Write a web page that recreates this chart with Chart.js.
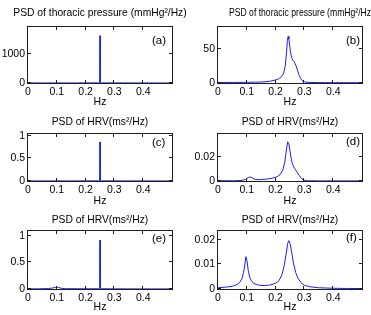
<!DOCTYPE html>
<html>
<head>
<meta charset="utf-8">
<script src="https://cdn.jsdelivr.net/npm/chart.js@4.4.0/dist/chart.umd.min.js"></script>
<style>
  body { margin: 0; background: #fff; }
  #wrap { position: relative; width: 371px; height: 315px; overflow: hidden; }
  #wrap canvas { position: absolute; left: 0; top: 0; }
</style>
</head>
<body>
<div id="wrap">
  <canvas id="a" width="371" height="315"></canvas>
  <canvas id="b" width="371" height="315"></canvas>
  <canvas id="c" width="371" height="315"></canvas>
  <canvas id="d" width="371" height="315"></canvas>
  <canvas id="e" width="371" height="315"></canvas>
  <canvas id="f" width="371" height="315"></canvas>
</div>
<script>
const xTicks = [0, 0.1, 0.2, 0.3, 0.4]

// (a) thoracic pressure, spectrum of the synthetic breathing
const freqA = [0, 0.05, 0.1, 0.15, 0.2, 0.245, 0.249, 0.25, 0.251, 0.255, 0.3, 0.4, 0.5]
const psdA = [3, 2, 2, 2, 3, 4, 12, 1620, 12, 4, 3, 2, 2]
const yTicksA = [0, 1000]

// (b) thoracic pressure, real recording
const freqB = [0, 0.05, 0.1, 0.13, 0.16, 0.18, 0.2, 0.21, 0.22, 0.228, 0.234, 0.238, 0.241, 0.2435, 0.246, 0.249,
  0.252, 0.256, 0.26, 0.264, 0.268, 0.272, 0.277, 0.282, 0.287, 0.292, 0.298, 0.305, 0.32, 0.35, 0.4, 0.45, 0.5]
const psdB = [0.8, 0.8, 1, 1.2, 1.6, 2.5, 4.5, 6, 9, 14, 26, 45, 62, 68, 64, 54,
  44, 37, 33, 31, 28, 24, 17, 11, 6.5, 3.5, 2, 1.2, 0.8, 0.6, 0.5, 0.5, 0.4]
const yTicksB = [0, 50]

// (c) HRV, spike only
const freqC = [0, 0.05, 0.1, 0.15, 0.2, 0.245, 0.249, 0.25, 0.251, 0.255, 0.3, 0.4, 0.5]
const psdC = [0.002, 0.002, 0.002, 0.002, 0.003, 0.004, 0.01, 0.865, 0.01, 0.004, 0.003, 0.002, 0.002]
const yTicksC = [0, 0.5, 1]

// (d) HRV, real recording
const freqD = [0, 0.05, 0.08, 0.095, 0.105, 0.112, 0.12, 0.13, 0.145, 0.17, 0.19, 0.205, 0.215, 0.225, 0.232,
  0.237, 0.242, 0.246, 0.25, 0.254, 0.258, 0.263, 0.268, 0.275, 0.282, 0.29, 0.3, 0.31, 0.35, 0.4, 0.5]
const psdD = [0.0002, 0.0002, 0.0004, 0.0012, 0.0028, 0.0034, 0.0024, 0.0013, 0.0011, 0.0016, 0.0024, 0.0035,
  0.0052, 0.009, 0.016, 0.025, 0.0327, 0.031, 0.025, 0.019, 0.0145, 0.0118, 0.0098, 0.0072, 0.0045, 0.002,
  0.0006, 0.0002, 0.0001, 0.0001, 0.0001]
const yTicksD = [0, 0.02]

// (e) HRV, spike plus small LF bump
const freqE = [0, 0.04, 0.07, 0.085, 0.095, 0.1, 0.105, 0.115, 0.13, 0.2, 0.245, 0.249, 0.25, 0.251, 0.255, 0.3, 0.4, 0.5]
const psdE = [0.003, 0.004, 0.008, 0.018, 0.032, 0.036, 0.03, 0.014, 0.006, 0.004, 0.005, 0.012, 0.918, 0.012,
  0.005, 0.003, 0.002, 0.002]
const yTicksE = [0, 0.5, 1]

// (f) HRV, model
const freqF = [0, 0.03, 0.05, 0.065, 0.075, 0.083, 0.089, 0.093, 0.097, 0.101, 0.105, 0.11, 0.117, 0.125, 0.14,
  0.16, 0.18, 0.2, 0.212, 0.222, 0.23, 0.237, 0.242, 0.246, 0.25, 0.255, 0.262, 0.27, 0.278, 0.288, 0.3, 0.32,
  0.35, 0.4, 0.45, 0.5]
const psdF = [0.0005, 0.0008, 0.0011, 0.0017, 0.0026, 0.0042, 0.0068, 0.0098, 0.0131, 0.0112, 0.0075, 0.0048,
  0.0031, 0.0022, 0.0016, 0.0014, 0.0016, 0.0023, 0.0034, 0.0058, 0.0095, 0.0145, 0.0185, 0.0196, 0.0185,
  0.0155, 0.0105, 0.0066, 0.0043, 0.0026, 0.0015, 0.0009, 0.0005, 0.0003, 0.0002, 0.0002]
const yTicksF = [0, 0.01, 0.02]

const TITLE_P = 'PSD of thoracic pressure (mmHg²/Hz)'
const TITLE_H = 'PSD of HRV(ms²/Hz)'

const FONT = '"Liberation Sans", Arial, Helvetica, sans-serif'

// MATLAB style box with inward ticks, titles, panel letters
const frame = {
  id: 'frame',
  afterDraw(chart, args, opts) {
    const { ctx, chartArea: a, scales: { x, y } } = chart
    ctx.save()
    ctx.strokeStyle = '#1e1e1e'
    ctx.lineWidth = 1
    ctx.strokeRect(a.left - 0.5, a.top - 0.5, a.right - a.left + 1, a.bottom - a.top + 1)
    ctx.beginPath()
    x.ticks.forEach(t => {
      const px = Math.round(x.getPixelForValue(t.value)) - 0.5
      ctx.moveTo(px, a.bottom); ctx.lineTo(px, a.bottom - 3)
      ctx.moveTo(px, a.top); ctx.lineTo(px, a.top + 3)
    })
    y.ticks.forEach(t => {
      const py = Math.round(y.getPixelForValue(t.value)) - 0.5
      ctx.moveTo(a.left, py); ctx.lineTo(a.left + 3, py)
      ctx.moveTo(a.right, py); ctx.lineTo(a.right - 3, py)
    })
    ctx.stroke()

    ctx.fillStyle = '#000'
    ctx.textBaseline = 'middle'
    ctx.font = '10.3px ' + FONT
    if (opts.titleX != null) {
      ctx.textAlign = 'left'
      ctx.fillText(opts.title, opts.titleX, opts.titleY, opts.titleW)
    } else {
      ctx.textAlign = 'center'
      ctx.fillText(opts.title, (a.left + a.right) / 2, opts.titleY)
    }
    ctx.textAlign = 'center'
    ctx.font = '10.5px ' + FONT
    ctx.fillText('Hz', (a.left + a.right) / 2, opts.hzY)
    ctx.textAlign = 'left'
    ctx.font = '11.5px ' + FONT
    ctx.fillText(opts.letter, a.left + opts.letterDx, opts.letterY)
    ctx.restore()
  }
}

function panel(id, freq, psd, yMax, yTicks, box, text) {
  const yW = 26
  const xH = 16
  new Chart(document.getElementById(id), {
    type: 'line',
    data: {
      datasets: [{
        data: freq.map((f, i) => ({ x: f, y: psd[i] })),
        borderColor: 'rgb(30,30,240)',
        borderWidth: 1,
        pointRadius: 0,
        tension: 0,
        fill: false,
      }]
    },
    options: {
      responsive: false,
      animation: false,
      events: [],
      layout: {
        padding: { left: box.left - yW, top: box.top, right: 371 - box.right, bottom: 315 - box.bottom - xH }
      },
      plugins: {
        legend: { display: false },
        tooltip: { enabled: false },
        frame: text,
      },
      scales: {
        x: {
          type: 'linear', min: 0, max: 0.5,
          afterFit: s => { s.height = xH },
          afterBuildTicks: s => { s.ticks = xTicks.map(v => ({ value: v })) },
          grid: { display: false, drawTicks: false },
          border: { display: false },
          ticks: { padding: 3, autoSkip: false, maxRotation: 0, color: '#000', font: { family: FONT, size: 10.5 }, callback: v => String(v) },
        },
        y: {
          type: 'linear', min: 0, max: yMax,
          afterFit: s => { s.width = yW },
          afterBuildTicks: s => { s.ticks = yTicks.map(v => ({ value: v })) },
          grid: { display: false, drawTicks: false },
          border: { display: false },
          ticks: { padding: 3, autoSkip: false, color: '#000', font: { family: FONT, size: 10.5 }, callback: v => String(v) },
        }
      }
    },
    plugins: [frame]
  })
}

const colL = { left: 28, right: 172 }
const colR = { left: 218, right: 362 }
const row1 = { top: 27, bottom: 83 }
const row2 = { top: 134, bottom: 181 }
const row3 = { top: 231, bottom: 289 }

panel('a', freqA, psdA, 1920, yTicksA, { ...colL, ...row1 }, { title: TITLE_P, titleY: 13, hzY: 102, letter: '(a)', letterDx: 124, letterY: 41 })
panel('b', freqB, psdB, 81.6, yTicksB, { ...colR, ...row1 }, { title: TITLE_P, titleX: 229, titleW: 145, titleY: 13, hzY: 102, letter: '(b)', letterDx: 128, letterY: 41 })
panel('c', freqC, psdC, 1.04, yTicksC, { ...colL, ...row2 }, { title: TITLE_H, titleY: 122, hzY: 201, letter: '(c)', letterDx: 124, letterY: 143 })
panel('d', freqD, psdD, 0.0392, yTicksD, { ...colR, ...row2 }, { title: TITLE_H, titleY: 122, hzY: 201, letter: '(d)', letterDx: 128, letterY: 142 })
panel('e', freqE, psdE, 1.09, yTicksE, { ...colL, ...row3 }, { title: TITLE_H, titleY: 220, hzY: 307, letter: '(e)', letterDx: 124, letterY: 239 })
panel('f', freqF, psdF, 0.0235, yTicksF, { ...colR, ...row3 }, { title: TITLE_H, titleY: 220, hzY: 307, letter: '(f)', letterDx: 128, letterY: 238 })
</script>
</body>
</html>
